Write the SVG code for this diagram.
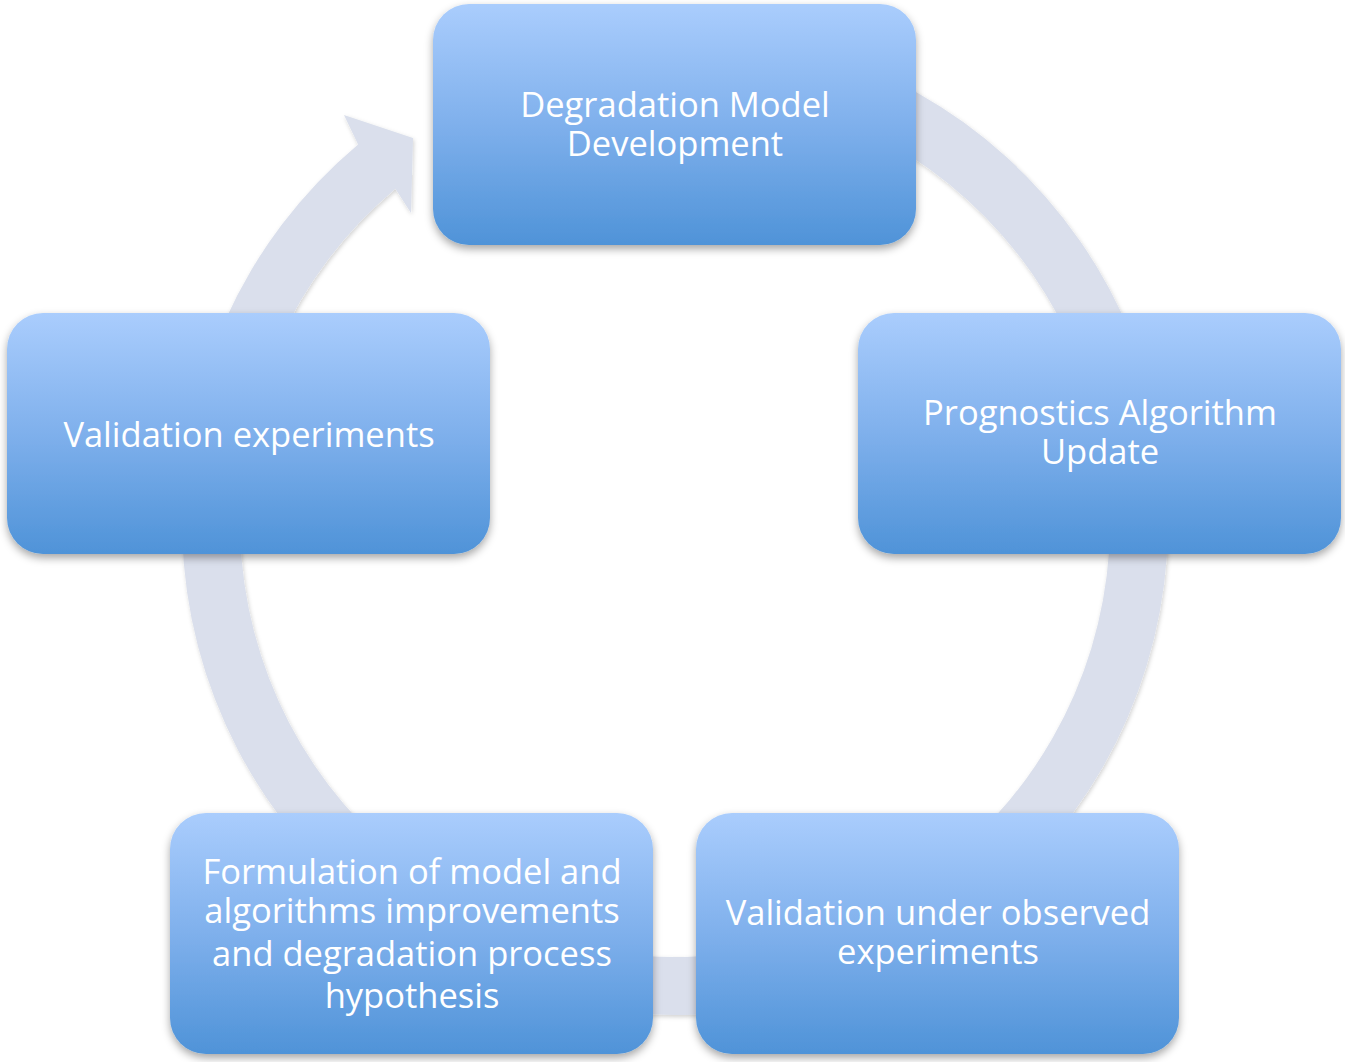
<svg xmlns="http://www.w3.org/2000/svg" width="1345" height="1062" viewBox="0 0 1345 1062">
<defs>
<linearGradient id="boxGrad" x1="0" y1="0" x2="0" y2="1">
<stop offset="0" stop-color="#AACDFD"/>
<stop offset="0.5" stop-color="#7FB0EC"/>
<stop offset="1" stop-color="#4F93D8"/>
</linearGradient>
<filter id="boxShadow" x="-10%" y="-10%" width="120%" height="125%">
<feDropShadow dx="0" dy="4" stdDeviation="4" flood-color="#000" flood-opacity="0.35"/>
</filter>
<filter id="ringShadow" x="-10%" y="-10%" width="120%" height="120%">
<feDropShadow dx="1" dy="2" stdDeviation="2" flood-color="#000" flood-opacity="0.18"/>
</filter>
</defs>
<style>
.box { fill: url(#boxGrad); filter: url(#boxShadow); }
.lbl { font-family: "Open Sans", "Liberation Sans", sans-serif; font-size: 34.5px; fill: #FFFFFF; text-anchor: middle; }
.ring { fill: #DADFEC; filter: url(#ringShadow); }
</style>
<g id="connectors">
<path class="ring" d="M 760.6 36.5 A 493 493 0 1 1 358.1 144.4 L 344 115 L 413 138 L 411 213 L 395.4 188.8 A 435 435 0 1 0 750.5 93.6 Z"/>
</g>
<g id="node-degradation">
<rect class="box" x="433" y="4" width="483" height="241" rx="36" ry="36"/>
<text class="lbl" x="675" y="117">Degradation Model</text>
<text class="lbl" x="675" y="156">Development</text>
</g>
<g id="node-prognostics">
<rect class="box" x="858" y="313" width="483" height="241" rx="36" ry="36"/>
<text class="lbl" x="1100" y="425">Prognostics Algorithm</text>
<text class="lbl" x="1100" y="464">Update</text>
</g>
<g id="node-validation-observed">
<rect class="box" x="696" y="813" width="483" height="241" rx="36" ry="36"/>
<text class="lbl" x="938" y="925">Validation under observed</text>
<text class="lbl" x="938" y="964">experiments</text>
</g>
<g id="node-formulation">
<rect class="box" x="170" y="813" width="483" height="241" rx="36" ry="36"/>
<text class="lbl" x="412" y="884">Formulation of model and</text>
<text class="lbl" x="412" y="923">algorithms improvements</text>
<text class="lbl" x="412" y="966">and degradation process</text>
<text class="lbl" x="412" y="1008">hypothesis</text>
</g>
<g id="node-validation">
<rect class="box" x="7" y="313" width="483" height="241" rx="36" ry="36"/>
<text class="lbl" x="249" y="447">Validation experiments</text>
</g>
</svg>
